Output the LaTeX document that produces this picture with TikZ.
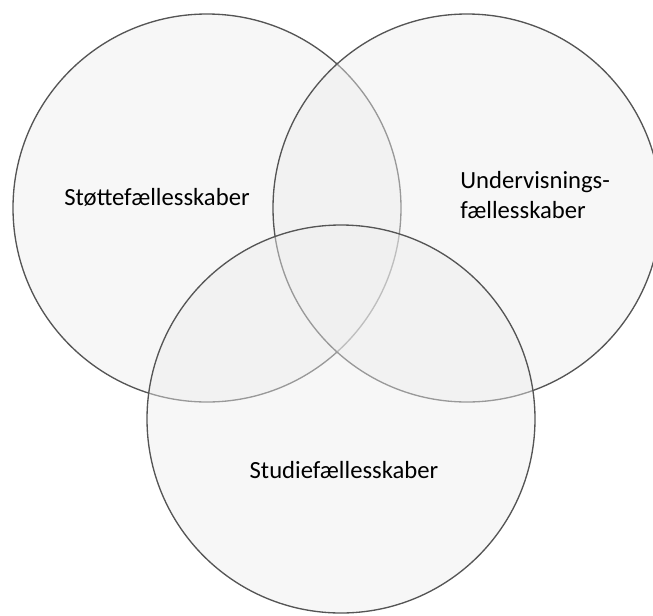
\documentclass[tikz,border=0pt]{standalone}
\usepackage{fontspec}
\setmainfont{Carlito}

\definecolor{vennline}{HTML}{555555}
\definecolor{vennfill}{gray}{0.93}

\begin{document}
\begin{tikzpicture}[x=0.75pt,y=-0.75pt,
    venn/.style={circle,draw=vennline,line width=1pt,fill=vennfill,fill opacity=0.45,minimum size=291pt,inner sep=0pt},
    venntext/.style={font=\fontsize{18.5}{22.5}\selectfont,text=black,inner sep=0pt}]

                \useasboundingbox (0,0) rectangle (653,615);

                \node[venn] (stoette) at (207,208) {};

                \node[venn] (undervisning) at (467,208) {};

                \node[venn] (studie) at (341,419) {};

                

                \node[venntext,anchor=base] (stoettetxt) at (157,205) {Støttefællesskaber};

                \node[venntext,anchor=base west,align=left] (undervisningtxt) at (460,218) {Undervisnings-\\fællesskaber};

                \node[venntext,anchor=base] (studietxt) at (344,478) {Studiefællesskaber};

            \end{tikzpicture}
\end{document}
